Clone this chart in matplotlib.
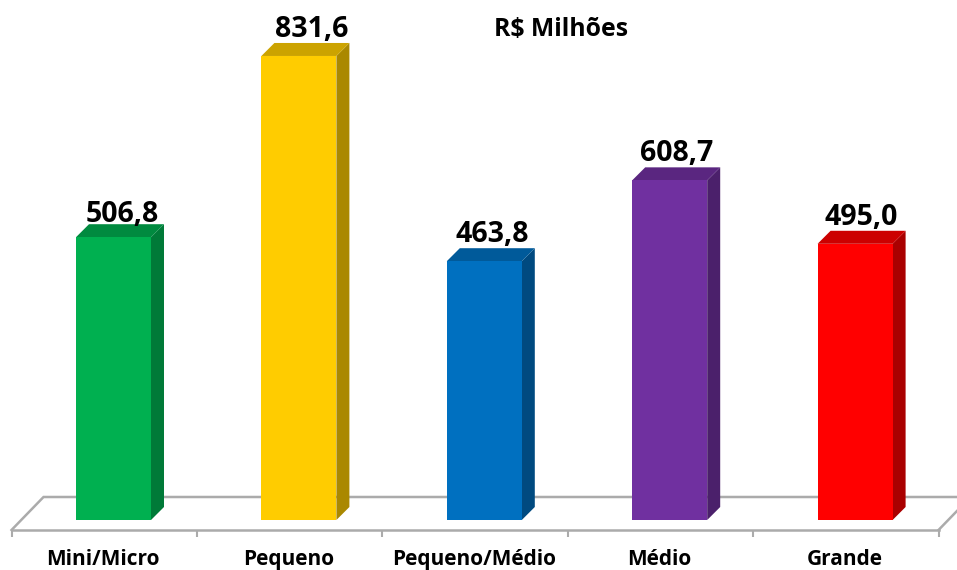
import matplotlib.pyplot as plt
from matplotlib.patches import Polygon

plt.rcParams['font.family'] = ['Open Sans', 'DejaVu Sans']

categories = ['Mini/Micro', 'Pequeno', 'Pequeno/Médio', 'Médio', 'Grande']
values = [506.8, 831.6, 463.8, 608.7, 495.0]
labels = ['506,8', '831,6', '463,8', '608,7', '495,0']
front_colors = ['#00B050', '#FFCC00', '#0070C0', '#7030A0', '#FF0000']
side_colors = ['#007A38', '#AA8800', '#004A80', '#4B206B', '#AA0000']
top_colors = ['#008A3F', '#CCA300', '#005A9A', '#5A2680', '#CC0000']

PX_X = 185.4  # pixels per category
PX_Y = 0.558  # pixels per R$ million
BAR_W = 75 / PX_X
DEPTH_X = 13 / PX_X
DEPTH_Y = 13 / PX_Y
FLOOR_FRONT = -10 / PX_Y
FLOOR_BACK = 23 / PX_Y
FLOOR_SHIFT = 32 / PX_X

fig = plt.figure(figsize=(9.57, 5.70), dpi=100)
ax = fig.add_axes([0, 0, 1, 1])
ax.set_xlim(-113.5 / PX_X, (957 - 113.5) / PX_X)
ax.set_ylim(-50 / PX_Y, 520 / PX_Y)

# floor of the fake 3d box
left = -0.55
right = len(categories) - 0.55
floor_color = '#ABABAB'
ax.plot([left, left + FLOOR_SHIFT, right + FLOOR_SHIFT],
        [FLOOR_FRONT, FLOOR_BACK, FLOOR_BACK], color=floor_color, lw=1.8, zorder=1,
        solid_joinstyle='miter')
ax.plot([right, right + FLOOR_SHIFT], [FLOOR_FRONT, FLOOR_BACK], color=floor_color,
        lw=1.8, zorder=1)

# hand tuned label nudges, in pixels
label_dx = [8.5, 12.5, 8, 7, 6.5]
label_dy = [15, 18.5, 19, 19, 19]

for i, v in enumerate(values):
    x0 = i - BAR_W / 2
    x1 = i + BAR_W / 2
    ax.bar(i, v, width=BAR_W, color=front_colors[i], zorder=3)
    ax.add_patch(Polygon([(x1, 0), (x1 + DEPTH_X, DEPTH_Y), (x1 + DEPTH_X, v + DEPTH_Y), (x1, v)],
                         closed=True, facecolor=side_colors[i], edgecolor='none', zorder=2))
    ax.add_patch(Polygon([(x0, v), (x0 + DEPTH_X, v + DEPTH_Y), (x1 + DEPTH_X, v + DEPTH_Y), (x1, v)],
                         closed=True, facecolor=top_colors[i], edgecolor='none', zorder=2))
    ax.annotate(labels[i], xy=(i, v), xytext=(label_dx[i], label_dy[i]), textcoords='offset pixels',
                ha='center', va='baseline', fontsize=20.5, fontweight='bold', color='black', zorder=4)

for side in ['top', 'left', 'right']:
    ax.spines[side].set_visible(False)
ax.spines['bottom'].set_position(('data', FLOOR_FRONT))
ax.spines['bottom'].set_bounds(left, right)
ax.spines['bottom'].set_color(floor_color)
ax.spines['bottom'].set_linewidth(1.8)

ax.set_yticks([])
ax.set_xticks([left + k for k in range(len(categories) + 1)])
ax.set_xticklabels([])
ax.tick_params(axis='x', which='major', length=5, width=1.5, color=floor_color)
ax.set_xticks([k - 0.055 for k in range(len(categories))], minor=True)
ax.set_xticklabels(categories, minor=True, fontsize=15, fontweight='bold', color='black')
ax.tick_params(axis='x', which='minor', length=0, pad=13.5)

fig.text(561 / 957, 1 - 29.5 / 570, 'R$ Milhões', ha='center', va='center', fontsize=17.8, fontweight='bold')

plt.savefig('out.png', dpi=100)
plt.close()
